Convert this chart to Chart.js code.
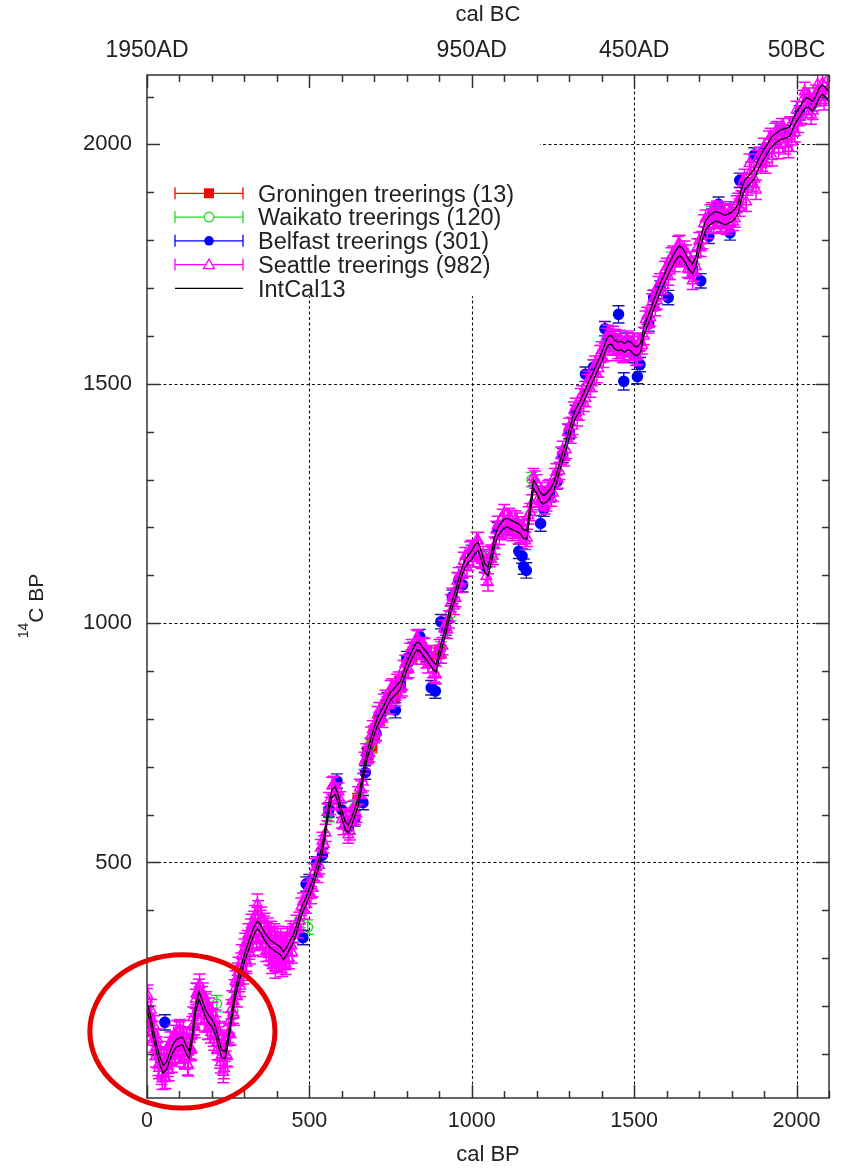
<!DOCTYPE html>
<html>
<head>
<meta charset="utf-8">
<script src="https://cdn.jsdelivr.net/npm/chart.js@4.4.1/dist/chart.umd.min.js"></script>
<style>
  html, body { margin: 0; padding: 0; background: #ffffff; }
  canvas { display: block; }
</style>
</head>
<body>
<canvas id="c" width="843" height="1170"></canvas>
<script>
// IntCal13 calibration curve: [cal BP, 14C BP, 1 sigma]
const intcal13 = [
  [0,200,8],[10,175,8],[20,140,8],[30,110,8],[40,85,8],[50,68,8],[60,75,8],[70,95,8],[80,112,8],[90,122,8],
  [100,125,8],[110,127,8],[120,110,8],[130,98,8],[140,140,8],[150,195,8],[160,222,8],[170,205,8],[180,185,8],[190,172,8],
  [200,165,8],[210,150,8],[220,125,8],[230,100,8],[240,98,8],[250,130,8],[260,175,8],[270,220,8],[280,250,8],[290,275,8],
  [300,300,8],[310,320,8],[320,340,8],[330,358,8],[340,370,8],[350,362,8],[360,348,8],[370,338,8],[380,330,8],[390,325,8],
  [400,320,8],[410,316,8],[420,305,8],[430,315,8],[440,328,8],[450,340,8],[460,360,8],[470,385,8],[480,405,8],[490,420,8],
  [500,437,8],[510,455,8],[520,478,8],[530,500,8],[540,530,8],[550,570,8],[560,615,8],[570,645,8],[580,650,8],[590,630,8],
  [600,600,8],[610,578,8],[620,570,8],[630,585,8],[640,605,8],[650,625,8],[660,660,8],[670,700,8],[680,730,8],[690,752,8],
  [700,775,8],[710,795,8],[720,808,8],[730,820,8],[740,835,8],[750,848,8],[760,855,8],[770,862,8],[780,870,8],[790,890,8],
  [800,910,8],[810,925,8],[820,940,8],[830,952,8],[840,950,8],[850,940,8],[860,932,8],[870,922,8],[880,912,8],[890,905,8],
  [900,935,8],[910,960,8],[920,985,8],[930,1015,8],[940,1040,8],[950,1060,8],[960,1085,8],[970,1108,8],[980,1125,8],[990,1135,8],
  [1000,1142,9],[1010,1155,9],[1020,1160,9],[1030,1140,9],[1040,1115,9],[1050,1108,9],[1060,1135,9],[1070,1170,9],[1080,1190,9],[1090,1200,9],
  [1100,1208,9],[1110,1210,9],[1120,1206,9],[1130,1203,9],[1140,1200,9],[1150,1195,9],[1160,1185,9],[1170,1185,9],[1180,1240,9],[1190,1290,9],
  [1200,1280,9],[1210,1265,9],[1220,1258,9],[1230,1262,9],[1240,1270,9],[1250,1280,9],[1260,1300,9],[1270,1325,9],[1280,1348,9],[1290,1370,9],
  [1300,1395,9],[1310,1420,9],[1320,1438,9],[1330,1450,9],[1340,1465,9],[1350,1480,9],[1360,1495,9],[1370,1510,9],[1380,1525,9],[1390,1540,9],
  [1400,1555,9],[1410,1575,9],[1420,1590,9],[1430,1592,9],[1440,1582,9],[1450,1578,9],[1460,1580,9],[1470,1575,9],[1480,1580,9],[1490,1578,9],
  [1500,1570,9],[1510,1568,9],[1520,1575,9],[1530,1610,9],[1540,1628,9],[1550,1645,9],[1560,1665,9],[1570,1682,9],[1580,1700,9],[1590,1715,9],
  [1600,1730,10],[1610,1745,10],[1620,1758,10],[1630,1770,10],[1640,1778,10],[1650,1772,10],[1660,1760,10],[1670,1748,10],[1680,1740,10],[1690,1755,10],
  [1700,1785,10],[1710,1810,10],[1720,1830,10],[1730,1840,10],[1740,1845,10],[1750,1850,10],[1760,1848,10],[1770,1845,10],[1780,1842,10],[1790,1845,10],
  [1800,1848,10],[1810,1855,10],[1820,1865,10],[1830,1895,10],[1840,1915,10],[1850,1922,10],[1860,1930,10],[1870,1938,10],[1880,1955,10],[1890,1968,10],
  [1900,1980,10],[1910,1990,10],[1920,2002,10],[1930,2010,10],[1940,2015,10],[1950,2020,10],[1960,2022,10],[1970,2024,10],[1980,2028,10],[1990,2045,10],
  [2000,2058,10],[2010,2068,10],[2020,2080,10],[2030,2088,10],[2040,2085,10],[2050,2080,10],[2060,2092,10],[2070,2108,10],[2080,2115,10],[2090,2108,10],
  [2100,2100,10]
];

// Tree-ring measurements: [cal BP, 14C BP, 1 sigma]
const groningen = [
  [620,580,14],[650,630,14],[680,725,14],[692,743,14],[700,770,14],[715,800,14],[735,825,14],
  [760,850,14],[780,875,14],[815,930,14],[845,945,14],[870,925,14],[900,940,14]
];

const waikato = [
  [215,205,17],[265,190,16],[470,380,16],[495,365,15],[560,600,15],[640,615,15],[687,745,15],
  [730,815,15],[800,915,15],[905,945,16],[935,1020,15],[1010,1150,16],[1060,1145,15],[1100,1210,15],
  [1185,1300,15],[1300,1400,15],[1450,1585,15],[1615,1760,15],[1650,1775,15],[1740,1855,15],[1900,1985,15]
];

const belfast = [
  [55,166,16],[480,343,15],[490,455,15],[500,460,15],[522,498,14],[540,515,14],[560,610,15],[585,670,15],
  [600,610,16],[620,575,15],[640,592,16],[665,625,15],[672,688,14],[678,724,14],[705,770,15],[720,810,15],
  [740,840,15],[765,818,16],[780,872,15],[800,926,15],[820,945,15],[840,972,15],[860,935,15],[875,865,15],
  [888,858,15],[905,1003,15],[920,990,15],[940,1055,14],[960,1090,15],[972,1080,15],[1000,1148,15],[1040,1120,15],
  [1080,1195,15],[1115,1200,15],[1145,1150,15],[1155,1140,15],[1160,1118,16],[1168,1110,16],[1212,1208,16],[1222,1238,15],
  [1240,1268,15],[1262,1295,15],[1280,1350,15],[1300,1400,15],[1320,1440,15],[1350,1520,15],[1375,1535,15],[1410,1615,15],
  [1420,1590,15],[1440,1595,15],[1452,1645,18],[1468,1505,18],[1480,1590,16],[1500,1560,16],[1510,1515,15],[1518,1540,15],
  [1545,1625,15],[1560,1680,15],[1580,1700,15],[1605,1680,15],[1640,1765,15],[1680,1740,15],[1705,1715,15],[1730,1808,15],
  [1740,1850,15],[1760,1875,15],[1780,1845,15],[1795,1815,15],[1825,1925,15],[1840,1915,15],[1870,1978,15],[1900,1985,15],
  [1960,2025,15],[2010,2066,15],[2050,2085,15]
];

const seattle = [
  [0,215,22],[5,178,22],[10,180,20],[15,146,22],[20,148,20],[25,110,22],[30,116,20],[35,77,22],[40,95,20],[45,58,22],
  [50,72,20],[55,49,22],[60,89,20],[65,75,22],[70,115,20],[75,98,22],[80,127,20],[85,105,22],[90,140,20],[95,116,22],
  [100,147,20],[105,112,22],[110,137,20],[115,93,22],[120,115,20],[125,78,22],[130,110,20],[135,108,22],[140,158,20],[145,162,22],
  [150,215,20],[155,225,22],[160,236,20],[165,201,22],[170,221,20],[175,185,22],[180,205,20],[185,170,22],[190,187,20],[195,154,22],
  [200,175,20],[205,138,22],[210,158,20],[215,123,22],[220,137,20],[225,92,22],[230,108,20],[235,62,22],[240,104,20],[245,97,22],
  [250,144,20],[255,142,22],[260,193,20],[265,186,22],[270,235,20],[275,221,22],[280,270,20],[285,252,22],[290,291,20],[295,276,22],
  [300,320,20],[305,295,22],[310,338,20],[315,320,22],[320,362,20],[325,341,22],[330,378,20],[335,352,22],[340,412,22],[345,356,22],
  [350,380,20],[355,340,22],[360,368,20],[365,329,22],[370,354,20],[375,316,22],[380,344,20],[385,290,22],[390,300,20],[395,280,22],
  [400,335,20],[405,296,22],[410,326,20],[415,292,22],[420,325,20],[425,298,22],[430,331,20],[435,311,22],[440,346,20],[445,326,22],
  [450,352,20],
  [2,222,22],[7,160,22],[12,192,22],[17,125,22],[22,158,22],[27,95,22],[32,130,22],[37,70,22],[42,104,22],[47,48,22],
  [52,92,22],[57,50,22],[62,104,22],[67,66,22],[72,124,22],[77,84,22],[82,138,22],[87,96,22],[92,148,22],[97,102,22],
  [102,150,22],[107,104,22],[112,148,22],[117,90,22],[122,132,22],[127,76,22],[132,130,22],[137,110,22],[142,176,22],[147,156,22],
  [152,226,22],[157,196,22],[162,245,22],[167,186,22],[172,226,22],[177,168,22],[182,208,22],[187,152,22],[192,195,22],[197,145,22],
  [202,186,22],[207,130,22],[212,170,22],[217,110,22],[222,146,22],[227,82,22],[232,124,22],[237,70,22],[242,128,22],[247,95,22],
  [252,165,22],[257,140,22],[262,210,22],[267,182,22],[272,252,22],[277,220,22],[282,280,22],[287,242,22],[292,306,22],[297,268,22],
  [302,330,22],[307,290,22],[312,350,22],[317,310,22],[322,370,22],[327,328,22],[332,388,22],[337,340,22],[342,398,22],[347,338,22],
  [352,385,22],[357,325,22],[362,372,22],[367,315,22],[372,362,22],[377,308,22],[382,355,22],[387,300,22],[392,350,22],[397,295,22],
  [402,345,22],[407,292,22],[412,340,22],[417,284,22],[422,332,22],[427,288,22],[432,344,22],[437,300,22],[442,356,22],[447,312,22],
  [460,372,18],[470,378,18],[480,418,18],[490,412,18],[500,450,18],[510,446,18],[520,490,18],[530,494,18],[540,545,18],[550,562,18],
  [560,628,18],[570,660,18],[580,642,18],[590,648,18],[600,590,18],[610,592,18],[620,558,18],[630,596,18],[640,598,18],[650,640,18],
  [660,652,18],[670,712,18],[680,724,18],[690,765,18],[700,768,18],[710,808,18],[720,800,18],[730,834,18],[740,828,18],[750,862,18],
  [760,850,18],[770,875,18],[780,862,18],[790,904,18],[800,902,18],[810,940,18],[820,932,18],[830,968,18],[840,942,18],[850,952,18],
  [860,924,18],[870,935,18],[880,904,18],[890,892,18],[900,948,18],[910,952,18],[920,998,18],[930,1008,18],[940,1055,18],[950,1052,18],
  [960,1098,18],[970,1100,18],[980,1140,18],[990,1128,18],[1000,1155,18],[1010,1148,18],[1020,1172,18],[1030,1132,18],[1040,1125,18],[1050,1085,18],
  [1060,1145,18],[1070,1162,18],[1080,1205,18],[1090,1192,18],[1100,1230,18],[1110,1200,18],[1120,1218,18],[1130,1195,18],[1140,1212,18],[1150,1186,18],
  [1160,1198,18],[1170,1178,18],[1180,1232,18],[1190,1305,18],[1200,1292,18],[1210,1255,18],[1220,1268,18],[1230,1252,18],[1240,1282,18],[1250,1272,18],
  [1260,1315,18],[1270,1318,18],[1280,1362,18],[1290,1362,18],[1300,1410,18],[1310,1412,18],[1320,1452,18],[1330,1442,18],[1340,1478,18],[1350,1470,18],
  [1360,1508,18],[1370,1502,18],[1380,1540,18],[1390,1532,18],[1400,1570,18],[1410,1566,18],[1420,1604,18],[1430,1585,18],[1440,1596,18],[1450,1570,18],
  [1460,1592,18],[1470,1565,18],[1480,1592,18],[1490,1568,18],[1500,1582,18],[1510,1558,18],[1520,1588,18],[1530,1600,18],[1540,1642,18],[1550,1638,18],
  [1560,1678,18],[1570,1674,18],[1580,1712,18],[1590,1706,18],[1600,1744,18],[1610,1736,18],[1620,1770,18],[1630,1762,18],[1640,1792,18],[1650,1765,18],
  [1660,1772,18],[1670,1738,18],[1680,1715,18],[1690,1745,18],[1700,1798,18],[1710,1800,18],[1720,1845,18],[1730,1832,18],[1740,1860,18],[1750,1842,18],
  [1760,1862,18],[1770,1836,18],[1780,1855,18],[1790,1835,18],[1800,1862,18],[1810,1845,18],[1820,1880,18],[1830,1885,18],[1840,1930,18],[1850,1912,18],
  [1860,1945,18],[1870,1928,18],[1880,1970,18],[1890,1958,18],[1900,1995,18],[1910,1980,18],[1920,2016,18],[1930,2000,18],[1940,2030,18],[1950,2010,18],
  [1960,2036,18],[1970,2014,18],[1980,2040,18],[1990,2035,18],[2000,2072,18],[2010,2058,18],[2020,2095,18],[2030,2080,18],[2040,2100,18],[2050,2070,18],
  [2060,2106,18],[2070,2098,18],[2080,2128,18],[2090,2100,18],[2100,2112,18],
  [465,360,18],[475,408,18],[485,400,18],[495,442,18],[505,432,18],[515,480,18],[525,476,18],[535,530,18],[545,538,18],[555,605,18],
  [565,618,18],[575,662,18],[585,628,18],[595,630,18],[605,576,18],[615,588,18],[625,565,18],[635,610,18],[645,602,18],[655,656,18],
  [665,668,18],[675,730,18],[685,728,18],[695,778,18],[705,772,18],[715,816,18],[725,800,18],[735,842,18],[745,828,18],[755,866,18],
  [765,845,18],[775,880,18],[785,866,18],[795,915,18],[805,904,18],[815,948,18],[825,932,18],[835,966,18],[845,932,18],[855,950,18],
  [865,914,18],[875,930,18],[885,895,18],[895,935,18],[905,934,18],[915,988,18],[925,986,18],[935,1042,18],[945,1036,18],[955,1088,18],
  [965,1082,18],[975,1130,18],[985,1116,18],[995,1152,18],[1005,1135,18],[1015,1172,18],[1025,1136,18],[1035,1142,18],[1045,1098,18],[1055,1136,18],
  [1065,1140,18],[1075,1195,18],[1085,1182,18],[1095,1220,18],[1105,1196,18],[1115,1222,18],[1125,1190,18],[1135,1216,18],[1145,1184,18],[1155,1204,18],
  [1165,1172,18],[1175,1225,18],[1185,1250,18],[1195,1300,18],[1205,1260,18],[1215,1276,18],[1225,1246,18],[1235,1280,18],[1245,1262,18],[1255,1305,18],
  [1265,1300,18],[1275,1350,18],[1285,1346,18],[1295,1398,18],[1305,1394,18],[1315,1444,18],[1325,1430,18],[1335,1472,18],[1345,1460,18],[1355,1502,18],
  [1365,1490,18],[1375,1532,18],[1385,1520,18],[1395,1562,18],[1405,1552,18],[1415,1598,18],[1425,1578,18],[1435,1602,18],[1445,1566,18],[1455,1594,18],
  [1465,1562,18],[1475,1592,18],[1485,1566,18],[1495,1588,18],[1505,1556,18],[1515,1586,18],[1525,1580,18],[1535,1634,18],[1545,1624,18],[1555,1670,18],
  [1565,1660,18],[1575,1706,18],[1585,1694,18],[1595,1738,18],[1605,1724,18],[1615,1766,18],[1625,1752,18],[1635,1790,18],[1645,1762,18],[1655,1780,18],
  [1665,1740,18],[1675,1758,18],[1685,1732,18],[1695,1785,18],[1705,1784,18],[1715,1835,18],[1725,1822,18],[1735,1856,18],[1745,1834,18],[1755,1864,18],
  [1765,1832,18],[1775,1858,18],[1785,1830,18],[1795,1862,18],[1805,1838,18],[1815,1875,18],[1825,1868,18],[1835,1920,18],[1865,1920,18],[1885,1976,18],
  [1895,1962,18],[1915,2010,18],[1935,2026,18],[1955,2036,18],[2015,2062,18],[2035,2100,18],[2055,2100,18],[2075,2100,18],
  [1845,1880,20],[1855,1960,20],[1875,1905,20],[1905,1960,20],[1925,1975,20],[1945,1990,20],[1965,2000,20],[1975,1992,20],
  [1985,2005,20],[1995,2025,20],[2005,2045,20],[2025,2110,20],[2045,2062,20],[2065,2125,20],[2085,2092,20],[2095,2135,20]
];

// Axis settings
const xRange = [0, 2100];
const yRange = [8, 2145];
const xTickValues = [0, 500, 1000, 1500, 2000];
const yTickValues = [500, 1000, 1500, 2000];
const topTickValues = [0, 1000, 1500, 2000];
const topTickLabels = ['1950AD', '950AD', '450AD', '50BC'];
const gridValues = [500, 1000, 1500, 2000];
const majorStep = 500;
const minorStep = 100;

// Legend entries
const legendLabels = ['Groningen treerings (13)', 'Waikato treerings (120)', 'Belfast treerings (301)', 'Seattle treerings (982)', 'IntCal13'];
const legendColors = ['#ff0000', '#22dd22', '#0000ff', '#ff00ff', '#000000'];
const legendMarkers = ['square', 'openCircle', 'circle', 'openTriangle', 'none'];

// Highlight ring around the modern section, in data units
const ringCenter = [109, 147];
const ringRadius = [285, 160];

const FONT = "'Liberation Sans', Arial, Helvetica, sans-serif";
const TEXT = '#222222';

const toPoints = arr => arr.map(p => ({ x: p[0], y: p[1] }));
const toErrors = arr => arr.map(p => p[2]);
const fixedTicks = values => scale => { scale.ticks = values.map(v => ({ value: v })); };

// Vertical error bars with caps, drawn under each dataset's markers
const errorBars = {
  id: 'errorBars',
  beforeDatasetDraw(chart, args) {
    const ds = chart.data.datasets[args.index];
    if (!ds.errors) return;
    const { ctx, chartArea: a, scales: { x, y } } = chart;
    ctx.save();
    ctx.beginPath();
    ctx.rect(a.left, a.top, a.right - a.left, a.bottom - a.top);
    ctx.clip();
    ctx.strokeStyle = ds.errorColor;
    ctx.lineWidth = ds.errorWidth || 1.4;
    ctx.beginPath();
    ds.data.forEach((p, i) => {
      const e = ds.errors[i];
      const px = x.getPixelForValue(p.x);
      const y1 = y.getPixelForValue(p.y + e);
      const y2 = y.getPixelForValue(p.y - e);
      ctx.moveTo(px, y1); ctx.lineTo(px, y2);
      ctx.moveTo(px - 6, y1); ctx.lineTo(px + 6, y1);
      ctx.moveTo(px - 6, y2); ctx.lineTo(px + 6, y2);
    });
    ctx.stroke();
    ctx.restore();
  }
};

// Dotted grid, legend panel, frame with inward ticks, y title, ring
const decorations = {
  id: 'decorations',
  beforeDatasetsDraw(chart) {
    const { ctx, chartArea: a, scales: { x, y } } = chart;
    ctx.save();
    ctx.strokeStyle = '#111';
    ctx.lineWidth = 1.1;
    ctx.setLineDash([3, 2.5]);
    ctx.beginPath();
    gridValues.forEach(v => {
      const px = Math.round(x.getPixelForValue(v)) + 0.5;
      ctx.moveTo(px, a.top); ctx.lineTo(px, a.bottom);
      const py = Math.round(y.getPixelForValue(v)) + 0.5;
      ctx.moveTo(a.left, py); ctx.lineTo(a.right, py);
    });
    ctx.stroke();
    ctx.restore();

    // legend panel hides the grid behind it
    const boxRight = x.getPixelForValue(1210);
    const boxBottom = y.getPixelForValue(1683);
    ctx.save();
    ctx.fillStyle = '#ffffff';
    ctx.fillRect(a.left + 1, a.top + 1, boxRight - a.left - 1, boxBottom - a.top - 1);
    ctx.restore();
    drawLegend(ctx);
  },
  afterDatasetsDraw(chart) {
    const { ctx, chartArea: a, scales: { x, y } } = chart;
    ctx.save();
    ctx.strokeStyle = '#333';
    ctx.lineWidth = 1.5;
    ctx.strokeRect(a.left, a.top, a.right - a.left, a.bottom - a.top);
    ctx.beginPath();
    for (let v = xRange[0]; v <= xRange[1]; v += minorStep) {
      const len = v % majorStep === 0 ? 13 : 7;
      const px = Math.round(x.getPixelForValue(v)) + 0.5;
      ctx.moveTo(px, a.bottom); ctx.lineTo(px, a.bottom - len);
      ctx.moveTo(px, a.top); ctx.lineTo(px, a.top + len);
    }
    for (let v = 100; v <= yRange[1]; v += minorStep) {
      const len = v % majorStep === 0 ? 13 : 7;
      const py = Math.round(y.getPixelForValue(v)) + 0.5;
      ctx.moveTo(a.left, py); ctx.lineTo(a.left + len, py);
      ctx.moveTo(a.right, py); ctx.lineTo(a.right - len, py);
    }
    ctx.stroke();
    ctx.restore();
  },
  afterDraw(chart) {
    const { ctx, scales: { x, y } } = chart;
    // y-axis title with superscript mass number
    ctx.save();
    ctx.translate(43, 606);
    ctx.rotate(-Math.PI / 2);
    ctx.fillStyle = TEXT;
    ctx.textBaseline = 'alphabetic';
    ctx.font = '14px ' + FONT;
    const w1 = ctx.measureText('14').width;
    ctx.font = '21px ' + FONT;
    const w2 = ctx.measureText('C BP').width;
    const start = -(w1 + w2) / 2;
    ctx.font = '14px ' + FONT;
    ctx.fillText('14', start, -15);
    ctx.font = '21px ' + FONT;
    ctx.fillText('C BP', start + w1, 0);
    ctx.restore();

    // red ring
    const cx = x.getPixelForValue(ringCenter[0]);
    const cy = y.getPixelForValue(ringCenter[1]);
    const rx = x.getPixelForValue(ringCenter[0] + ringRadius[0]) - cx;
    const ry = cy - y.getPixelForValue(ringCenter[1] + ringRadius[1]);
    ctx.save();
    ctx.strokeStyle = '#e80000';
    ctx.lineWidth = 5;
    ctx.beginPath();
    ctx.ellipse(cx, cy, rx, ry, 0, 0, Math.PI * 2);
    ctx.stroke();
    ctx.restore();
  }
};

function drawLegend(ctx) {
  const x1 = 175, x2 = 243, mx = 209, tx = 258;
  const y0 = 193.3, step = 23.75;
  ctx.save();
  legendLabels.forEach((label, i) => {
    const ly = y0 + i * step;
    const col = legendColors[i];
    ctx.strokeStyle = col;
    ctx.fillStyle = col;
    ctx.lineWidth = 1.3;
    ctx.beginPath();
    ctx.moveTo(x1, ly); ctx.lineTo(x2, ly);
    if (legendMarkers[i] !== 'none') {
      ctx.moveTo(x1, ly - 6); ctx.lineTo(x1, ly + 6);
      ctx.moveTo(x2, ly - 6); ctx.lineTo(x2, ly + 6);
    }
    ctx.stroke();
    const m = legendMarkers[i];
    ctx.beginPath();
    if (m === 'square') {
      ctx.fillRect(mx - 5, ly - 5, 10, 10);
    } else if (m === 'circle') {
      ctx.arc(mx, ly, 4.8, 0, Math.PI * 2); ctx.fill();
    } else if (m === 'openCircle') {
      ctx.fillStyle = '#fff';
      ctx.arc(mx, ly, 4.8, 0, Math.PI * 2); ctx.fill(); ctx.stroke();
    } else if (m === 'openTriangle') {
      ctx.fillStyle = '#fff';
      ctx.moveTo(mx, ly - 5.5); ctx.lineTo(mx + 5.5, ly + 4); ctx.lineTo(mx - 5.5, ly + 4); ctx.closePath();
      ctx.fill(); ctx.stroke();
    }
    ctx.fillStyle = TEXT;
    ctx.font = '23.5px ' + FONT;
    ctx.textBaseline = 'alphabetic';
    ctx.fillText(label, tx, ly + 8.3);
  });
  ctx.restore();
}

const seriesStyle = (data, color, errColor, style, radius, filled, order) => ({
  data: toPoints(data),
  errors: toErrors(data),
  errorColor: errColor,
  pointStyle: style,
  pointRadius: radius,
  pointHoverRadius: radius,
  pointBorderWidth: 1.5,
  borderColor: color,
  backgroundColor: filled ? color : 'rgba(0,0,0,0)',
  showLine: false,
  order: order
});

const intcalLine = (sign, order) => ({
  label: 'IntCal13',
  data: intcal13.map(p => ({ x: p[0], y: p[1] + sign * p[2] })),
  showLine: true,
  borderColor: '#000000',
  borderWidth: 1.3,
  pointRadius: 0,
  pointHoverRadius: 0,
  tension: 0,
  fill: false,
  order: order
});

new Chart(document.getElementById('c'), {
  type: 'scatter',
  data: {
    datasets: [
      intcalLine(1, 0),
      intcalLine(-1, 0),
      Object.assign({ label: 'Seattle treerings (982)', errorWidth: 1.5 }, seriesStyle(seattle, '#ff00ff', '#ff00ff', 'triangle', 6, false, 1)),
      Object.assign({ label: 'Belfast treerings (301)' }, seriesStyle(belfast, '#0000ff', '#1a1aa0', 'circle', 5, true, 2)),
      Object.assign({ label: 'Waikato treerings (120)' }, seriesStyle(waikato, '#22dd22', '#22dd22', 'circle', 4.8, false, 3)),
      Object.assign({ label: 'Groningen treerings (13)' }, seriesStyle(groningen, '#ff0000', '#ff0000', 'rect', 7, true, 4))
    ]
  },
  options: {
    responsive: false,
    animation: false,
    devicePixelRatio: 1,
    layout: { padding: { left: 0, right: 14, top: 0, bottom: 0 } },
    plugins: { legend: { display: false }, tooltip: { enabled: false } },
    events: [],
    scales: {
      x: {
        type: 'linear', position: 'bottom', min: xRange[0], max: xRange[1],
        afterFit: s => { s.height = 72; },
        afterBuildTicks: fixedTicks(xTickValues),
        grid: { display: false, drawTicks: false },
        border: { display: false },
        ticks: {
          autoSkip: false, maxRotation: 0,
          padding: 10, color: TEXT, font: { family: FONT, size: 21.5 },
          callback: v => String(v)
        },
        title: { display: true, text: 'cal BP', color: TEXT, font: { family: FONT, size: 22 }, padding: { top: 0, bottom: 2 } }
      },
      xTop: {
        type: 'linear', axis: 'x', position: 'top', min: xRange[0], max: xRange[1],
        afterFit: s => { s.height = 75; },
        afterBuildTicks: fixedTicks(topTickValues),
        grid: { display: false, drawTicks: false },
        border: { display: false },
        ticks: {
          autoSkip: false, maxRotation: 0,
          padding: 11, color: TEXT, font: { family: FONT, size: 23 },
          callback: v => { const i = topTickValues.indexOf(v); return i >= 0 ? topTickLabels[i] : ''; }
        },
        title: { display: true, text: 'cal BC', color: TEXT, font: { family: FONT, size: 22 }, padding: { top: 2, bottom: 0 } }
      },
      y: {
        type: 'linear', position: 'left', min: yRange[0], max: yRange[1],
        afterFit: s => { s.width = 147; },
        afterBuildTicks: fixedTicks(yTickValues),
        grid: { display: false, drawTicks: false },
        border: { display: false },
        ticks: {
          autoSkip: false,
          padding: 15, color: TEXT, font: { family: FONT, size: 22 },
          callback: v => String(v)
        }
      }
    }
  },
  plugins: [errorBars, decorations]
});
</script>
</body>
</html>
